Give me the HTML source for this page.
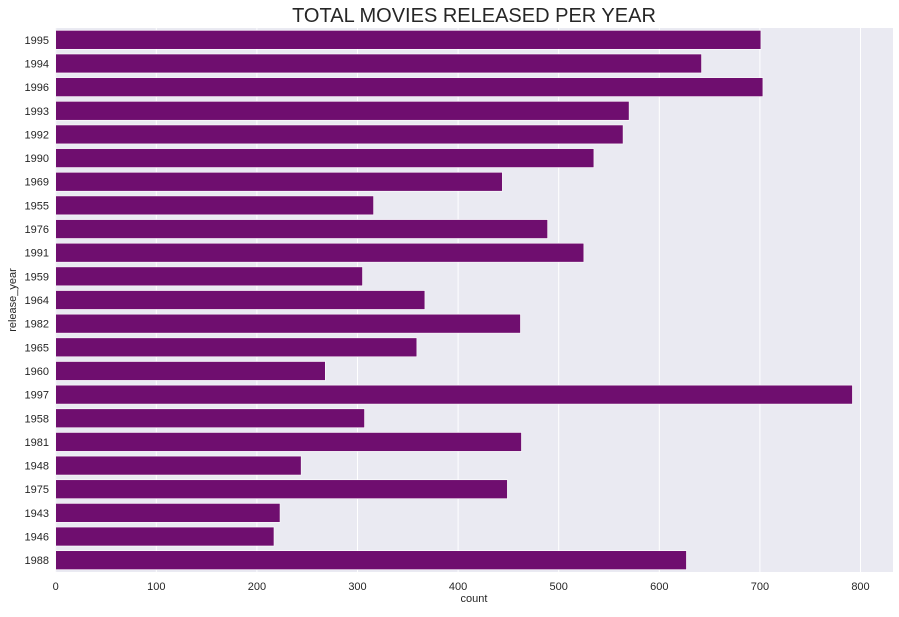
<!DOCTYPE html>
<html><head><meta charset="utf-8"><style>
body{margin:0;background:#fff;font-family:"Liberation Sans",sans-serif}
</style></head><body>
<svg width="899" height="612" xmlns="http://www.w3.org/2000/svg">
<text x="474" y="22" text-anchor="middle" font-size="20" fill="#262626">TOTAL MOVIES RELEASED PER YEAR</text>
<rect x="55" y="28" width="838" height="544" fill="#eaeaf2"/>
<g id="grid"></g><g id="bars"></g><g id="xt"></g><g id="yt"></g>
<text x="474" y="602" text-anchor="middle" font-size="11" fill="#262626">count</text>
<text x="16" y="300" text-anchor="middle" font-size="11" fill="#262626" transform="rotate(-90 16 300)">release_year</text>
</svg>
<script>
const categories=["1995","1994","1996","1993","1992","1990","1969","1955","1976","1991","1959","1964","1982","1965","1960","1997","1958","1981","1948","1975","1943","1946","1988"];
const counts=[701,642,703,570,564,535,444,316,489,525,305,367,462,359,268,792,307,463,244,449,223,217,627];
const xTicks=[0,100,200,300,400,500,600,700,800];
const NS="http://www.w3.org/2000/svg";
const x0=55.7,xs=1.006,plotTop=28,plotBot=572;
const step=(plotBot-plotTop)/categories.length;
const X=v=>x0+v*xs, Y=i=>plotTop+step*(i+0.5);
function mk(t,a,p){const e=document.createElementNS(NS,t);for(const k in a)e.setAttribute(k,a[k]);document.getElementById(p).appendChild(e);return e;}
xTicks.forEach(t=>{
 const l=mk('line',{x1:X(t),x2:X(t),y1:plotTop,y2:plotBot,stroke:'#fff','stroke-width':1},'grid');
 
 
 const tx=mk('text',{x:X(t),y:590,'text-anchor':'middle','font-size':11,fill:'#262626'},'xt');
 tx.textContent=t;
 
 
});
categories.forEach((c,i)=>{
 const h=step*0.8;
 const r=mk('rect',{x:X(0),y:Y(i)-h/2,width:X(counts[i])-X(0),height:h,fill:'#6f0e6f',stroke:'#fff','stroke-width':0.6},'bars');
 
 
 const tx=mk('text',{x:49,y:Y(i)+4,'text-anchor':'end','font-size':11,fill:'#262626'},'yt');
 tx.textContent=c;
 
 
});
</script>
</body></html>
